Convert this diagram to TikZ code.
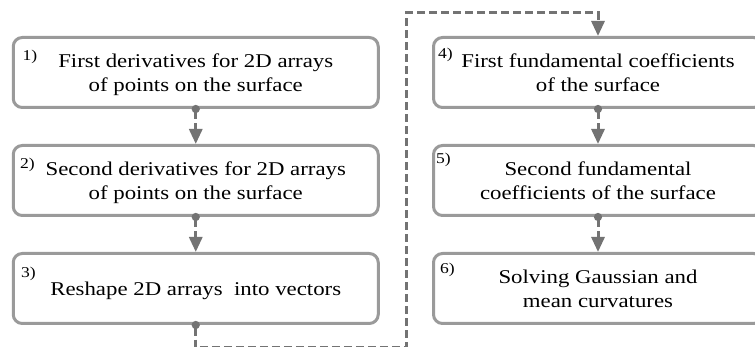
\documentclass[tikz,border=0pt]{standalone}
\usepackage{fontspec}
\setmainfont{Liberation Serif}[FakeStretch=1.17]
\usetikzlibrary{arrows.meta}

\definecolor{boxgray}{HTML}{9A9A9A}
\definecolor{linegray}{HTML}{737373}

% negative text depth sets the lines a little below the middle of each box
\tikzstyle{stepbox}=[draw=boxgray,line width=3pt,rounded corners=9pt,minimum height=70pt,
	align=center,inner sep=0pt,font=\fontsize{19.5}{24}\selectfont,text depth=-5pt]
\tikzstyle{widebox}=[stepbox,minimum width=365pt]
\tikzstyle{narrowbox}=[stepbox,minimum width=329pt]
\tikzstyle{stepnum}=[anchor=north west,inner sep=0pt,font=\fontsize{15}{15}\selectfont]
\tikzstyle{flow}=[draw=linegray,line width=3pt,dash pattern=on 8pt off 4pt,shorten <=-4pt,
	{Circle[length=8pt]}-{Triangle[width=13pt,length=15pt]}]

\begin{document}
\begin{tikzpicture}[x=1pt,y=-1pt]
	\useasboundingbox (0,0) rectangle (755,347);
	%left column
	\node[widebox] (deriv1) at (195.75,72.5) {First derivatives for 2D arrays\\of points on the surface};
	\node[widebox] (deriv2) at (195.75,180.5) {Second derivatives for 2D arrays\\of points on the surface};
	\node[widebox] (reshape) at (195.75,288.5) {Reshape 2D arrays\ \ into vectors};
	%right column
	\node[narrowbox] (fund1) at (598,72.5) {First fundamental coefficients\\of the surface};
	\node[narrowbox] (fund2) at (598,180.5) {Second fundamental\\coefficients of the surface};
	\node[narrowbox] (curv) at (598,288.5) {Solving Gaussian and\\mean curvatures};
	%step numbers
	\node[stepnum] (num1) at (22.5,50) {1)};
	\node[stepnum] (num2) at (20,158) {2)};
	\node[stepnum] (num3) at (21,267) {3)};
	\node[stepnum] (num4) at (438,48) {4)};
	\node[stepnum] (num5) at (436,153) {5)};
	\node[stepnum] (num6) at (440,263) {6)};
	%connectors
	\draw[flow] (deriv1.south) -- (deriv2.north);
	\draw[flow] (deriv2.south) -- (reshape.north);
	\draw[flow] (fund1.south) -- (fund2.north);
	\draw[flow] (fund2.south) -- (curv.north);
	\coordinate (back low) at (406,347.5);
	\coordinate (back high) at (406,13);
	\draw[flow] (reshape.south) |- (back low) -- (back high) -| (fund1.north);
\end{tikzpicture}
\end{document}
